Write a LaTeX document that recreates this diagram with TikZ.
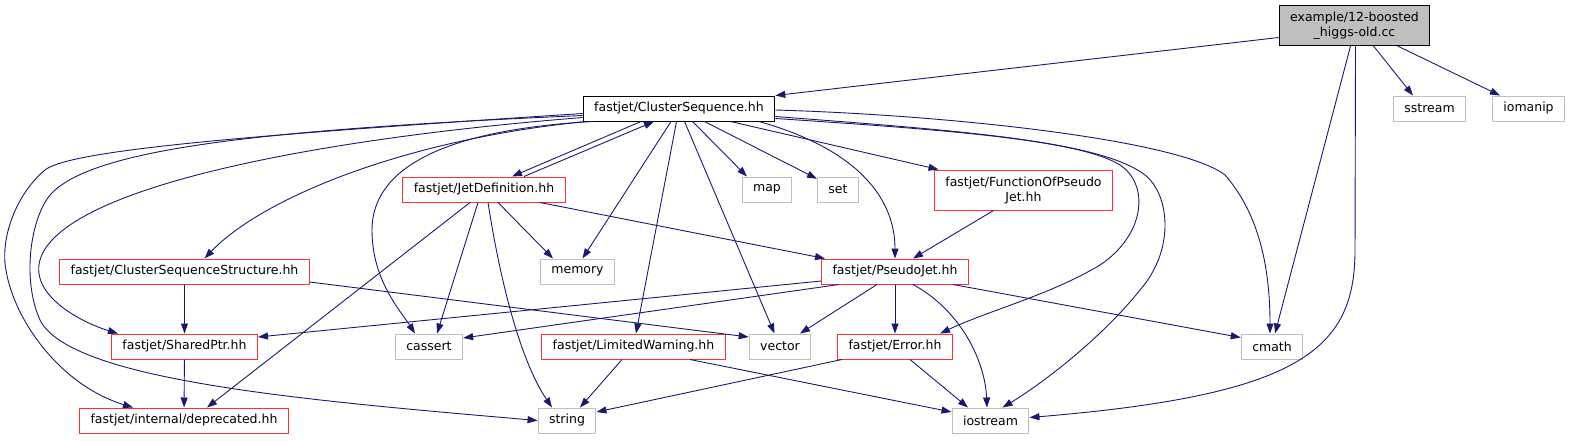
\documentclass[tikz,border=0pt]{standalone}
\usepackage{fontspec}
\setmainfont{DejaVu Sans}
\usetikzlibrary{arrows.meta}
\definecolor{edgeblue}{HTML}{191970}
\definecolor{boxgray}{HTML}{BFBFBF}
\definecolor{boxred}{HTML}{FF3030}

\begin{document}
\begin{tikzpicture}[x=1pt,y=-1pt,
  hdr/.style={draw,line width=1pt,fill=white,font=\fontsize{12.5}{15}\selectfont,inner xsep=11pt,inner ysep=2pt,minimum height=25pt},
  redhdr/.style={hdr,draw=boxred},
  syshdr/.style={hdr,draw=boxgray},
  incl/.style={draw=edgeblue,line width=0.9pt,-{Triangle[length=10pt,width=7pt]}}]
\useasboundingbox (0,0) rectangle (1570,440);

\node[hdr,fill=boxgray,align=center,minimum height=40pt] (ccfile) at (1354.5,25.5) {example/12-boosted\\\_higgs-old.cc};
\node[hdr] (clusterseq) at (679,108.5) {fastjet/ClusterSequence.hh};
\node[syshdr] (sstreamh) at (1429.5,108.5) {sstream};
\node[syshdr] (iomaniph) at (1528.5,108.5) {iomanip};
\node[redhdr] (jetdef) at (484,189.5) {fastjet/JetDefinition.hh};
\node[syshdr] (maph) at (767,189.5) {map};
\node[syshdr] (seth) at (838,189.5) {set};
\node[redhdr,align=center,minimum height=40pt] (funcpj) at (1023.5,190) {fastjet/FunctionOfPseudo\\Jet.hh};
\node[redhdr] (csstruct) at (184.5,271.5) {fastjet/ClusterSequenceStructure.hh};
\node[syshdr] (memoryh) at (577.5,271.5) {memory};
\node[redhdr] (pseudojet) at (895,271.5) {fastjet/PseudoJet.hh};
\node[redhdr] (sharedptr) at (184.5,346.5) {fastjet/SharedPtr.hh};
\node[syshdr] (cassert) at (429,346.5) {cassert};
\node[redhdr] (limwarn) at (633.5,346.5) {fastjet/LimitedWarning.hh};
\node[syshdr] (vectorh) at (780,346.5) {vector};
\node[redhdr] (errorh) at (895,346.5) {fastjet/Error.hh};
\node[syshdr] (cmathh) at (1272,346.5) {cmath};
\node[redhdr] (deprecated) at (184,420.5) {fastjet/internal/deprecated.hh};
\node[syshdr] (stringh) at (567,420.5) {string};
\node[syshdr] (iostreamh) at (990.5,420.5) {iostream};

\draw[incl] ([yshift=-12pt]ccfile.west) -- (clusterseq.north east);
\draw[incl] ([xshift=19pt]ccfile.south) -- ([xshift=-16.5pt]sstreamh.north);
\draw[incl] ([xshift=43pt]ccfile.south) -- ([xshift=-28.5pt]iomaniph.north);
\draw[incl] ([xshift=-4pt]ccfile.south) -- ([xshift=3pt]cmathh.north);
\draw[incl] ([xshift=1pt]ccfile.south) -- (1355,250) .. controls (1355,350) and (1300,395) .. ([yshift=3pt]iostreamh.east);

\draw[incl] ([xshift=-38pt]clusterseq.south) -- ([xshift=28pt]jetdef.north);
\draw[incl] ([xshift=40pt]jetdef.north) -- ([xshift=-25pt]clusterseq.south);
\draw[incl] ([xshift=-93pt]clusterseq.south) .. controls (400,140) and (260,200) .. ([xshift=20pt]csstruct.north);
\draw[incl] ([yshift=4pt]clusterseq.south west) .. controls (300,140) and (60,190) .. (40,260) .. controls (30,295) and (80,322) .. ([xshift=-66.5pt]sharedptr.north);
\draw[incl] ([yshift=8pt]clusterseq.south west) .. controls (250,135) and (70,150) .. (45,170) .. controls (15,195) and (0,240) .. (6,270) .. controls (14,320) and (60,385) .. ([xshift=-51pt]deprecated.north);
\draw[incl] ([yshift=6pt]clusterseq.south west) .. controls (250,130) and (90,150) .. (50,195) .. controls (30,220) and (22,280) .. (40,320) .. controls (70,380) and (300,400) .. (stringh.west);
\draw[incl] ([xshift=-86pt]clusterseq.south) .. controls (440,130) and (372,170) .. (372,230) .. controls (372,280) and (400,310) .. ([xshift=-14pt]cassert.north);
\draw[incl] ([xshift=-8pt]clusterseq.south) -- ([xshift=5pt]memoryh.north);
\draw[incl] (clusterseq) -- (limwarn);
\draw[incl] (clusterseq) -- (vectorh);
\draw[incl] ([xshift=13.5pt]clusterseq.south) -- ([xshift=-20pt]maph.north);
\draw[incl] (clusterseq) -- (seth);
\draw[incl] ([xshift=51.5pt]clusterseq.south) -- ([xshift=-85pt]funcpj.north);
\draw[incl] ([xshift=80pt]clusterseq.south) .. controls (860,150) and (895,200) .. (pseudojet.north);
\draw[incl] ([yshift=-1.5pt]clusterseq.east) .. controls (950,115) and (1180,140) .. (1225,175) .. controls (1260,215) and (1270,270) .. ([xshift=-2pt]cmathh.north);
\draw[incl] ([yshift=-8pt]clusterseq.east) .. controls (950,130) and (1100,140) .. (1145,175) .. controls (1170,195) and (1175,250) .. (1140,290) .. controls (1100,340) and (1040,385) .. ([xshift=12pt]iostreamh.north);
\draw[incl] ([yshift=-10pt]clusterseq.east) .. controls (950,130) and (1080,140) .. (1120,165) .. controls (1150,185) and (1145,235) .. (1100,265) .. controls (1050,295) and (990,310) .. ([xshift=45pt]errorh.north);

\draw[incl] ([xshift=14pt]jetdef.south) -- ([xshift=-24.5pt]memoryh.north);
\draw[incl] ([xshift=-14pt]jetdef.south) -- ([xshift=23pt]deprecated.north);
\draw[incl] ([xshift=-6pt]jetdef.south) -- ([xshift=8pt]cassert.north);
\draw[incl] ([xshift=4pt]jetdef.south) .. controls (500,280) and (520,360) .. ([xshift=-15pt]stringh.north);
\draw[incl] ([xshift=56pt]jetdef.south) -- ([xshift=-70pt]pseudojet.north);

\draw[incl] ([xshift=-30pt]funcpj.south) -- ([xshift=18pt]pseudojet.north);

\draw[incl] (csstruct) -- (sharedptr);
\draw[incl] ([yshift=-10.5pt]csstruct.east) -- ([yshift=9.5pt]vectorh.west);
\draw[incl] (sharedptr) -- (deprecated);

\draw[incl] ([yshift=-9.5pt]pseudojet.west) -- ([yshift=9.5pt]sharedptr.east);
\draw[incl] ([xshift=-56pt]pseudojet.south) -- ([yshift=8.5pt]cassert.east);
\draw[incl] ([xshift=-18pt]pseudojet.south) -- ([xshift=20pt]vectorh.north);
\draw[incl] (pseudojet) -- (errorh);
\draw[incl] ([xshift=18pt]pseudojet.south) .. controls (960,310) and (985,360) .. ([xshift=-3.5pt]iostreamh.north);
\draw[incl] ([xshift=58pt]pseudojet.south) -- ([yshift=9pt]cmathh.west);

\draw[incl] ([xshift=-11.5pt]limwarn.south) -- ([xshift=13pt]stringh.north);
\draw[incl] ([xshift=56.5pt]limwarn.south) -- ([yshift=8.5pt]iostreamh.west);

\draw[incl] ([xshift=-53pt]errorh.south) -- ([yshift=8.5pt]stringh.east);
\draw[incl] ([xshift=15pt]errorh.south) -- ([xshift=-22.5pt]iostreamh.north);
\end{tikzpicture}
\end{document}
